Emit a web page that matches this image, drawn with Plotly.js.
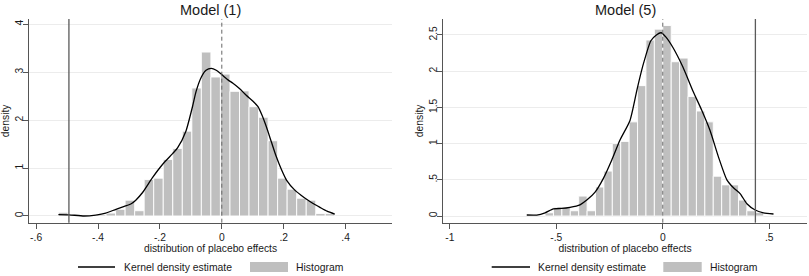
<!DOCTYPE html>
<html><head><meta charset="utf-8">
<script src="https://cdn.plot.ly/plotly-3.0.1.min.js"></script>
<style>html,body{margin:0;padding:0;background:#fff}#chart{width:809px;height:276px}</style>
</head><body><div id="chart"></div>
<script>
// ---------- Model (1) ----------
const binCenters1 = [-0.5126,-0.4818,-0.4510,-0.4202,-0.3894,-0.3586,-0.3278,-0.2970,-0.2662,-0.2354,-0.2046,-0.1738,-0.1430,-0.1122,-0.0814,-0.0506,-0.0198,0.0110,0.0418,0.0726,0.1034,0.1342,0.1650,0.1958,0.2266,0.2574,0.2882,0.3190,0.3498];
const density1 = [0.077,0,0,0,0.03,0.06,0.14,0.33,0.11,0.76,0.79,1.18,1.41,1.77,2.67,3.42,2.90,2.96,2.60,2.61,2.28,2.06,1.57,0.79,0.56,0.37,0.33,0.05,0.05];
const binWidth1 = 0.0308;
const kdeX1 = [-0.528,-0.494,-0.445,-0.407,-0.375,-0.342,-0.315,-0.294,-0.278,-0.256,-0.224,-0.191,-0.159,-0.143,-0.116,-0.094,-0.083,-0.066,-0.051,-0.034,-0.018,-0.002,0.020,0.036,0.057,0.079,0.100,0.117,0.130,0.144,0.160,0.176,0.192,0.209,0.236,0.255,0.274,0.295,0.317,0.340,0.365];
const kdeY1 = [0.03,0.025,0.0,0.02,0.06,0.14,0.2,0.25,0.33,0.49,0.8,1.08,1.3,1.42,1.77,2.3,2.6,2.9,3.04,3.08,3.04,2.96,2.84,2.77,2.66,2.52,2.4,2.28,2.1,1.86,1.55,1.24,0.98,0.75,0.54,0.44,0.35,0.26,0.18,0.1,0.04];
const actualEffect1 = -0.494;
const xTickVals1 = [-0.6,-0.4,-0.2,0,0.2,0.4];
const xTickText1 = ['-.6','-.4','-.2','0','.2','.4'];
const yTickVals1 = [0,1,2,3,4];
const yTickText1 = ['0','1','2','3','4'];

// ---------- Model (5) ----------
const binCenters5 = [-0.5333,-0.4938,-0.4543,-0.4148,-0.3753,-0.3358,-0.2963,-0.2568,-0.2173,-0.1778,-0.1383,-0.0988,-0.0593,-0.0198,0.0198,0.0593,0.0988,0.1383,0.1778,0.2173,0.2568,0.2963,0.3358,0.3753,0.4148,0.4543];
const density5 = [0.045,0.12,0.12,0.073,0.275,0.073,0.40,0.62,1.0,1.03,1.30,1.80,2.43,2.58,2.63,2.13,2.18,1.65,1.45,1.30,0.55,0.43,0.43,0.22,0.073,0.05];
const binWidth5 = 0.0395;
const kdeX5 = [-0.639,-0.592,-0.553,-0.514,-0.475,-0.436,-0.389,-0.357,-0.318,-0.279,-0.240,-0.201,-0.154,-0.120,-0.095,-0.056,-0.030,-0.008,0.015,0.047,0.094,0.141,0.183,0.222,0.261,0.301,0.332,0.363,0.395,0.434,0.473,0.520];
const kdeY5 = [0.014,0.014,0.045,0.10,0.105,0.12,0.155,0.22,0.33,0.52,0.77,1.05,1.32,1.76,2.06,2.42,2.50,2.53,2.47,2.33,2.06,1.73,1.46,1.18,0.82,0.50,0.39,0.31,0.17,0.083,0.045,0.028];
const actualEffect5 = 0.435;
const xTickVals5 = [-1,-0.5,0,0.5];
const xTickText5 = ['-1','-.5','0','.5'];
const yTickVals5 = [0,0.5,1,1.5,2,2.5];
const yTickText5 = ['0','.5','1','1.5','2','2.5'];

const titles = ['Model (1)','Model (5)'];
const xTitle = 'distribution of placebo effects';
const yTitle = 'density';
const legendLabels = ['Kernel density estimate','Histogram'];

// ---------- styling ----------
const W = 809, H = 276;
const FONT = '"Liberation Sans", Arial, sans-serif';
const TXT = '#1a1a1a';
const BAR = '#bfbfbf';
const AX = '#555555';
const px = v => v / W;
const py = v => 1 - v / H;

function barTrace(x, y, w, xa, ya) {
  return {type:'bar', x:x, y:y, width:w, xaxis:xa, yaxis:ya,
    marker:{color:BAR, line:{color:'#ffffff', width:0.9}}, showlegend:false, hoverinfo:'skip'};
}
function kdeTrace(x, y, xa, ya) {
  return {type:'scatter', mode:'lines', x:x, y:y, xaxis:xa, yaxis:ya,
    line:{color:'#000000', width:1.3, shape:'spline', smoothing:0.6}, showlegend:false, hoverinfo:'skip'};
}

const data = [
  barTrace(binCenters1, density1, binWidth1, 'x', 'y'),
  kdeTrace(kdeX1, kdeY1, 'x', 'y'),
  barTrace(binCenters5, density5, binWidth5, 'x2', 'y2'),
  kdeTrace(kdeX5, kdeY5, 'x2', 'y2')
];

const yDom = [py(222.7), py(19)];
function xAxis(dom, range, tv, tt) {
  return {domain:dom, range:range, tickvals:tv, ticktext:tt, showgrid:false, zeroline:false,
    showline:true, linecolor:AX, linewidth:1, ticks:'outside', ticklen:5, tickcolor:AX, tickwidth:1,
    tickfont:{family:FONT, size:10.3, color:TXT},
    title:{text:xTitle, font:{family:FONT, size:10.3, color:TXT}, standoff:0}};
}
function yAxis(range, tv, tt, anchor) {
  return {domain:yDom, range:range, tickvals:tv, ticktext:tt, anchor:anchor,
    showgrid:true, gridcolor:'#ececec', gridwidth:1, zeroline:false,
    showline:true, linecolor:AX, linewidth:1, ticks:'outside', ticklen:5, tickcolor:AX, tickwidth:1,
    tickangle:-90, ticklabelstandoff:-4, tickfont:{family:FONT, size:10.3, color:TXT},
    title:{text:yTitle, font:{family:FONT, size:10.3, color:TXT}, standoff:2}};
}

const shapes = [
  {type:'line', xref:'x', yref:'y domain', x0:actualEffect1, x1:actualEffect1, y0:0, y1:1, line:{color:'#5a5a5a', width:1.3}},
  {type:'line', xref:'x', yref:'y domain', x0:0, x1:0, y0:0, y1:1, line:{color:'#666666', width:1, dash:'4px,3px'}},
  {type:'line', xref:'x2', yref:'y2 domain', x0:actualEffect5, x1:actualEffect5, y0:0, y1:1, line:{color:'#5a5a5a', width:1.3}},
  {type:'line', xref:'x2', yref:'y2 domain', x0:0, x1:0, y0:0, y1:1, line:{color:'#666666', width:1, dash:'4px,3px'}},
  // legend keys
  {type:'line', xref:'paper', yref:'paper', x0:px(78), x1:px(115), y0:py(267), y1:py(267), line:{color:'#000', width:1.3}},
  {type:'rect', xref:'paper', yref:'paper', x0:px(250), x1:px(288), y0:py(272), y1:py(262), fillcolor:BAR, line:{width:0}},
  {type:'line', xref:'paper', yref:'paper', x0:px(491.7), x1:px(530), y0:py(267), y1:py(267), line:{color:'#000', width:1.3}},
  {type:'rect', xref:'paper', yref:'paper', x0:px(663.3), x1:px(701.7), y0:py(272), y1:py(262), fillcolor:BAR, line:{width:0}}
];

function ann(text, x, y, size, xanchor) {
  return {text:text, xref:'paper', yref:'paper', x:x, y:y, xanchor:xanchor, yanchor:'middle',
    showarrow:false, font:{family:FONT, size:size, color:TXT}};
}
const annotations = [
  ann(titles[0], px(210.5), py(9.5), 14.5, 'center'),
  ann(titles[1], px(625), py(9.5), 14.5, 'center'),
  ann(legendLabels[0], px(121.5), py(267), 10.4, 'left'),
  ann(legendLabels[1], px(293.5), py(267), 10.4, 'left'),
  ann(legendLabels[0], px(535.5), py(267), 10.4, 'left'),
  ann(legendLabels[1], px(708), py(267), 10.4, 'left')
];

const layout = {
  width:W, height:H, margin:{l:0, r:0, t:0, b:0},
  paper_bgcolor:'#ffffff', plot_bgcolor:'#ffffff',
  font:{family:FONT, color:TXT},
  barmode:'overlay', bargap:0, showlegend:false,
  xaxis: xAxis([px(29), px(392)], [-0.623, 0.55], xTickVals1, xTickText1),
  yaxis: yAxis([-0.14, 4.11], yTickVals1, yTickText1, 'x'),
  xaxis2: Object.assign(xAxis([px(443.3), px(806.7)], [-1.031, 0.676], xTickVals5, xTickText5), {anchor:'y2'}),
  yaxis2: yAxis([-0.092, 2.72], yTickVals5, yTickText5, 'x2'),
  shapes:shapes, annotations:annotations
};
layout.xaxis.anchor = 'y';

Plotly.newPlot('chart', data, layout, {displayModeBar:false, staticPlot:true});
</script>
</body></html>
